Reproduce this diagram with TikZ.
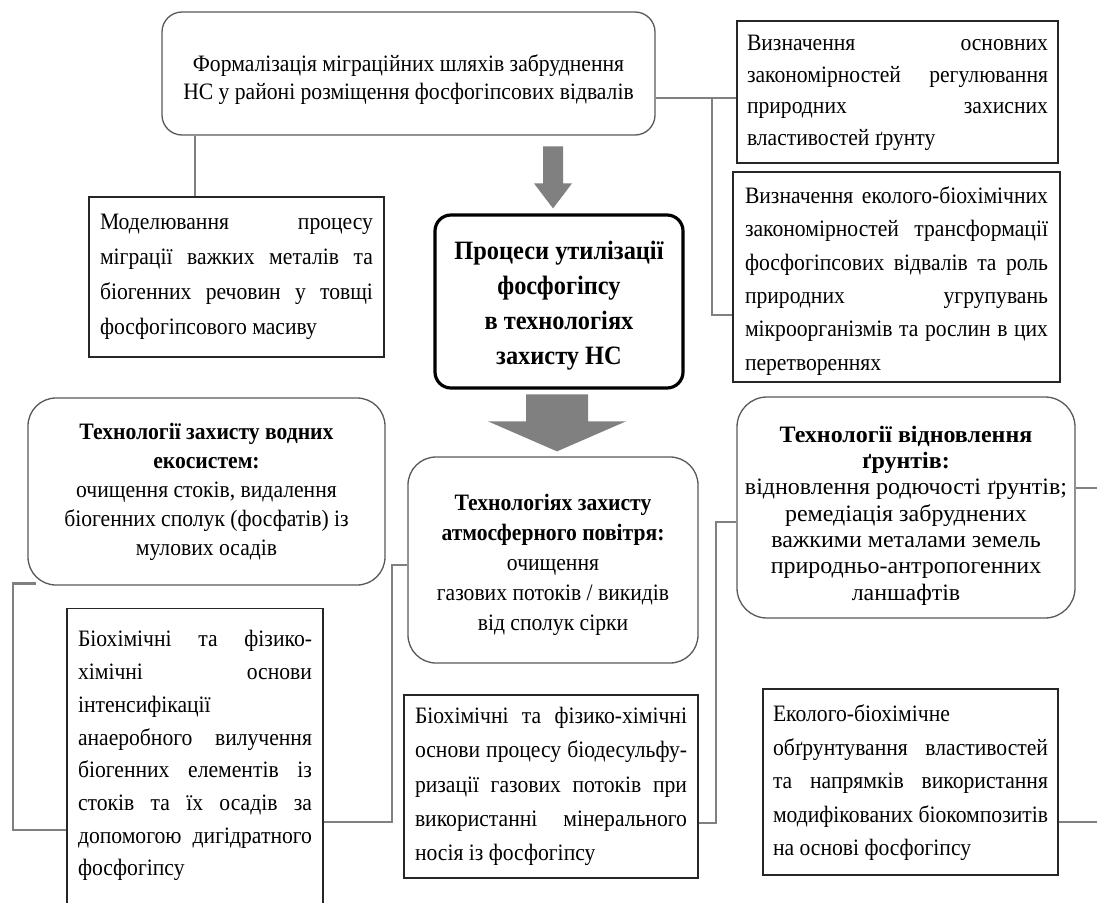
\documentclass[tikz,border=0pt]{standalone}
\usepackage{fontspec}
\setmainfont{Liberation Serif}[FakeStretch=0.92]
\newfontfamily\soilfont{Liberation Serif}[FakeStretch=1.02]
\usetikzlibrary{calc}
\newcommand\jl[2]{\makebox[#1][s]{#2}}
% rectangle text: width, baselineskip, top shift, text
\newcommand\bx[4]{\parbox{#1}{\fontsize{23.5}{#2}\selectfont\vspace*{#3}#4}}
% centred text: width, baselineskip, top shift, text
\newcommand\cbx[4]{\parbox{#1}{\centering\fontsize{23.5}{#2}\selectfont\vspace*{#3}#4}}
\begin{document}
\begin{tikzpicture}[x=1pt,y=-1pt,
  rbox/.style={draw=black!65, line width=1.3pt, rounded corners=24pt, inner sep=0pt, fill=white},
  sbox/.style={draw=black!85, line width=1.2pt, inner sep=0pt, fill=white},
  conn/.style={draw=black!50, line width=2.6pt, line join=miter},
  blk/.style={fill=black!50}]
\useasboundingbox (0,0) rectangle (1097,902);
\clip (0,0) rectangle (1097,902);

% top rounded box
\node[rbox, rounded corners=20pt, minimum width=493pt, minimum height=123pt] (top) at (408.5,73.5)
  {\cbx{480pt}{28pt}{12pt}{Формалізація міграційних шляхів забруднення\\НС у районі розміщення фосфогіпсових відвалів}};

% right top rectangles
\node[sbox, minimum width=321pt, minimum height=142pt] (r1) at (897.5,92)
  {\bx{301pt}{31.5pt}{2pt}{\jl{301pt}{Визначення основних}\\\jl{301pt}{закономірностей регулювання}\\\jl{301pt}{природних захисних}\\властивостей ґрунту}};

\node[sbox, minimum width=327pt, minimum height=210pt] (r2) at (896.5,277)
  {\bx{303pt}{33.3pt}{8pt}{\jl{303pt}{Визначення еколого-біохімічних}\\\jl{303pt}{закономірностей трансформації}\\\jl{303pt}{фосфогіпсових відвалів та роль}\\\jl{303pt}{природних угрупувань}\\\jl{303pt}{мікроорганізмів та рослин в цих}\\перетвореннях}};

% left model rectangle
\node[sbox, minimum width=295pt, minimum height=160pt] (model) at (236.5,277)
  {\bx{273pt}{35pt}{0pt}{\jl{273pt}{Моделювання процесу}\\\jl{273pt}{міграції важких металів та}\\\jl{273pt}{біогенних речовин у товщі}\\фосфогіпсового масиву}};

% central box
\node[draw=black, line width=3.2pt, rounded corners=16pt, inner sep=0pt, fill=white,
  minimum width=248pt, minimum height=173pt] (central) at (559,301.5)
  {\parbox{240pt}{\centering\fontsize{26.5}{35}\selectfont\bfseries\vspace*{8pt}Процеси утилізації\\фосфогіпсу\\в технологіях\\захисту НС}};

% technology boxes
\node[rbox, rounded corners=28pt, minimum width=357pt, minimum height=187pt] (water) at (206.5,491.5)
  {\cbx{345pt}{29pt}{0pt}{\textbf{Технології захисту водних}\\\textbf{екосистем:}\\очищення стоків, видалення\\біогенних сполук (фосфатів) із\\мулових осадів}};

\node[rbox, rounded corners=28pt, minimum width=290pt, minimum height=206pt] (atm) at (553,560)
  {\cbx{284pt}{30pt}{10pt}{\textbf{Технологіях захисту}\\\textbf{атмосферного повітря:}\\очищення\\газових потоків / викидів\\від сполук сірки}};

\node[rbox, rounded corners=30pt, minimum width=338pt, minimum height=221pt] (soil) at (906,507.5)
  {\cbx{336pt}{26.3pt}{16pt}{\soilfont\textbf{Технології відновлення}\\\textbf{ґрунтів:}\\відновлення родючості ґрунтів;\\ремедіація забруднених\\важкими металами земель\\природньо-антропогенних\\ланшафтів}};

% bottom rectangles
\node[sbox, anchor=north, minimum width=256pt, inner ysep=22pt] (bl) at (195,608)
  {\parbox[t][300pt][t]{234pt}{\fontsize{23.5}{32.7}\selectfont
   \jl{234pt}{Біохімічні та фізико-}\\\jl{234pt}{хімічні основи}\\інтенсифікації\\\jl{234pt}{анаеробного вилучення}\\\jl{234pt}{біогенних елементів із}\\\jl{234pt}{стоків та їх осадів за}\\\jl{234pt}{допомогою дигідратного}\\фосфогіпсу}};

\node[sbox, minimum width=294pt, minimum height=183pt] (bm) at (551,786.5)
  {\bx{272pt}{34.3pt}{0pt}{\jl{272pt}{Біохімічні та фізико-хімічні}\\\jl{272pt}{основи процесу біодесульфу-}\\\jl{272pt}{ризації газових потоків при}\\\jl{272pt}{використанні мінерального}\\носія із фосфогіпсу}};

\node[sbox, minimum width=295pt, minimum height=186pt] (br) at (910.5,782)
  {\bx{275pt}{33.5pt}{2pt}{Еколого-біохімічне\\\jl{275pt}{обґрунтування властивостей}\\\jl{275pt}{та напрямків використання}\\\jl{275pt}{модифікованих біокомпозитів}\\на основі фосфогіпсу}};

% block arrows
\coordinate (t1) at ($(central.north)+(-6,-5)$);
\fill[blk] (t1) -- ++(19,-25) -- ++(-9,0) -- ++(0,-37) -- ++(-20,0) -- ++(0,37) -- ++(-9,0) -- cycle;
\coordinate (t2) at ($(atm.north)+(4,-5)$);
\fill[blk] (t2) -- ++(69,-30) -- ++(-38,0) -- ++(0,-27) -- ++(-62,0) -- ++(0,27) -- ++(-38,0) -- cycle;

% connectors
\coordinate (yTop) at (0,98);
\coordinate (jR) at (712,315);
\coordinate (kx) at (195,0);
\draw[conn] (top.east |- yTop) -- (r1.west |- yTop);
\draw[conn] (jR |- yTop) |- (r2.west |- jR);
\draw[conn] (top.south -| kx) -- (model.north -| kx);

\coordinate (wL) at (13,830);
\draw[conn] ([xshift=9pt,yshift=2pt]water.south west) -| (wL) -- (wL -| bl.west);

\coordinate (ya) at (0,565);
\coordinate (aL) at (392,822);
\draw[conn] (atm.west |- ya) -| (aL) -- (aL -| bl.east);

\coordinate (ys) at (0,522);
\coordinate (sL) at (716,823);
\draw[conn] (soil.west |- ys) -| (sL) -- (sL -| bm.east);

\coordinate (eR1) at (1097,488);
\draw[conn] (soil.east |- eR1) -- (eR1);
\coordinate (eR2) at (1097,822);
\draw[conn] (br.east |- eR2) -- (eR2);
\end{tikzpicture}
\end{document}
